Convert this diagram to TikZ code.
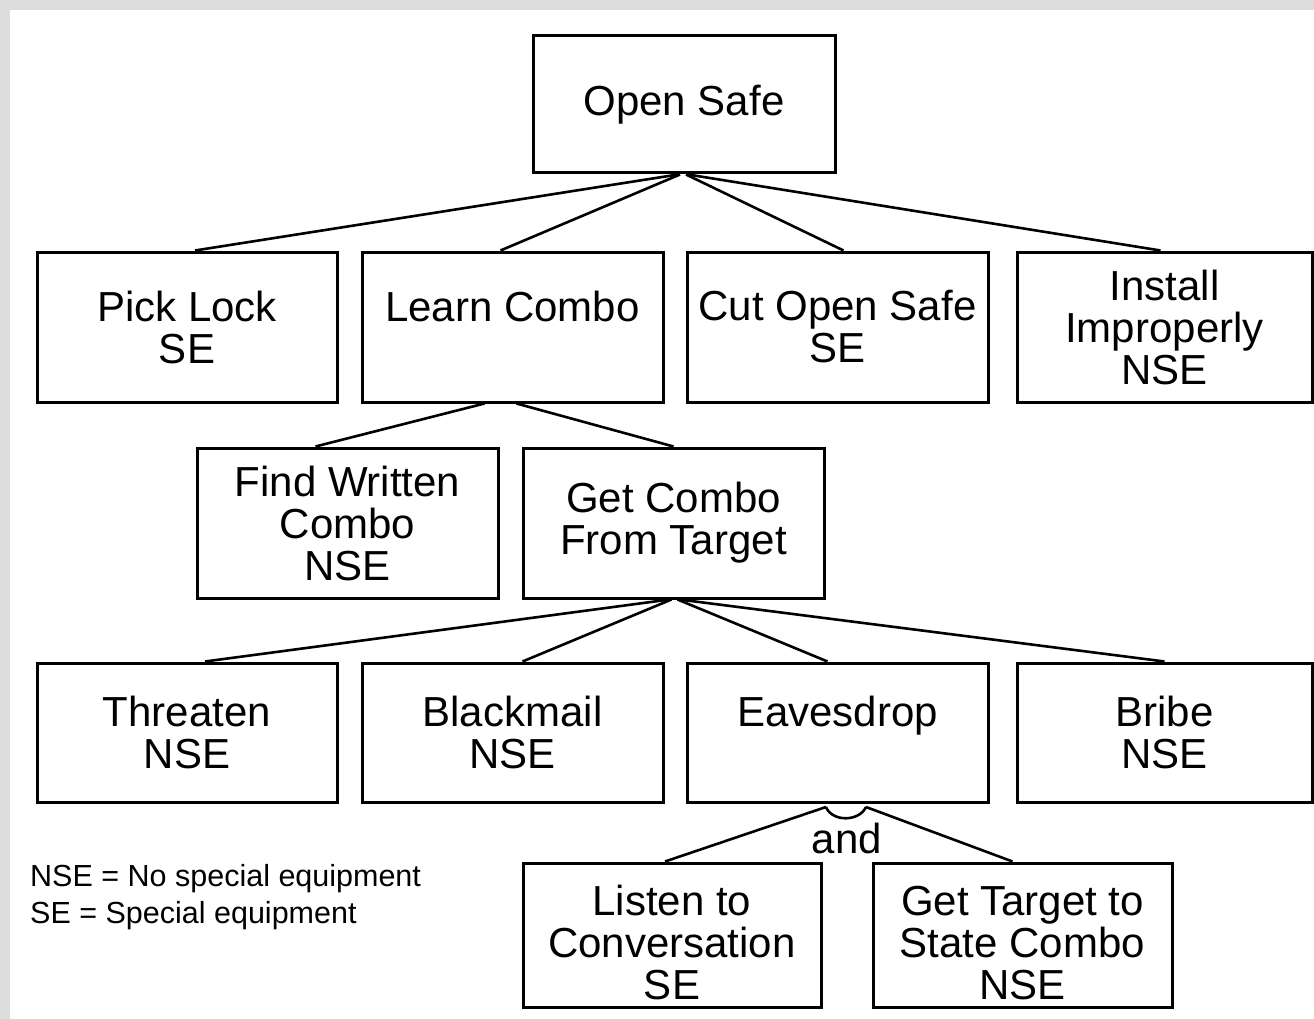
\documentclass[tikz,border=0pt]{standalone}
\usepackage{fontspec}
\setmainfont{Liberation Sans}
\definecolor{bggray}{RGB}{220,220,220}
\begin{document}
\begin{tikzpicture}[x=1pt,y=-1pt,
  box/.style 2 args={draw, line width=3pt, minimum width=#1pt, minimum height=#2pt,
    inner sep=0pt, align=center, font=\fontsize{42}{42}\selectfont},
  conn/.style={draw, line width=2.6pt},
  lbl/.style={inner sep=0pt, font=\fontsize{42}{42}\selectfont},
  legendtext/.style={inner sep=0pt, align=left, anchor=north west, font=\fontsize{30.5}{37}\selectfont}]
\useasboundingbox (0,0) rectangle (1314,1019);
\fill[bggray] (0,0) rectangle (1314,1019);
\fill[white] (10,10) rectangle (1314,1019);

% level 0
\node[box={302}{137}] (open) at (684,104.5) {Open Safe};
% level 1
\node[box={300}{150}] (pick) at (187,327) {Pick Lock\\SE};
\node[box={301}{150}] (learn) at (512.5,327) {Learn Combo\\\mbox{}};
\node[box={301}{150}] (cut) at (837.5,327) {Cut Open Safe\\SE};
\node[box={295}{150}] (install) at (1164.5,327) {Install\\Improperly\\NSE};
% level 2
\node[box={301}{150}] (find) at (347.5,523) {Find Written\\Combo\\NSE};
\node[box={301}{150}] (getcombo) at (673.5,523) {Get Combo\\From Target};
% level 3
\node[box={300}{139}] (threaten) at (187,732.5) {Threaten\\NSE};
\node[box={301}{139}] (blackmail) at (512.5,732.5) {Blackmail\\NSE};
\node[box={301}{139}] (eaves) at (837.5,732.5) {Eavesdrop\\\mbox{}};
\node[box={295}{139}] (bribe) at (1164.5,732.5) {Bribe\\NSE};
% level 4
\node[box={298}{144}] (listen) at (672,935) {\rule{0pt}{45pt}Listen to\\Conversation\\SE};
\node[box={299}{144}] (gettarget) at (1022.5,935) {\rule{0pt}{45pt}Get Target to\\State Combo\\NSE};

% connectors from Open Safe
\draw[conn] ([xshift=-6pt]open.south) -- ([xshift=8pt]pick.north);
\draw[conn] ([xshift=-4pt]open.south) -- ([xshift=-12pt]learn.north);
\draw[conn] ([xshift=2pt]open.south) -- ([xshift=6pt]cut.north);
\draw[conn] ([xshift=4pt]open.south) -- ([xshift=-4pt]install.north);
% connectors from Learn Combo
\draw[conn] ([xshift=-28pt]learn.south) -- ([xshift=-32pt]find.north);
\draw[conn] ([xshift=4pt]learn.south) -- (getcombo.north);
% connectors from Get Combo From Target
\draw[conn] ([xshift=-4pt]getcombo.south) -- ([xshift=18pt]threaten.north);
\draw[conn] ([xshift=-2pt]getcombo.south) -- ([xshift=10pt]blackmail.north);
\draw[conn] ([xshift=4pt]getcombo.south) -- ([xshift=-10pt]eaves.north);
\draw[conn] ([xshift=6pt]getcombo.south) -- (bribe.north);
% AND connectors from Eavesdrop
\coordinate (andl) at (826,807);
\coordinate (andr) at (866,807);
\draw[conn] (andl) -- ([xshift=-7pt]listen.north);
\draw[conn] (andr) -- ([xshift=-10pt]gettarget.north);
\draw[conn] (andl) .. controls (832,822) and (859,822) .. (andr);
\node[lbl] (andlabel) at (847,838) {and};

% legend
\node[legendtext] (legend) at (30,864) {NSE = No special equipment\\SE = Special equipment};
\end{tikzpicture}
\end{document}
